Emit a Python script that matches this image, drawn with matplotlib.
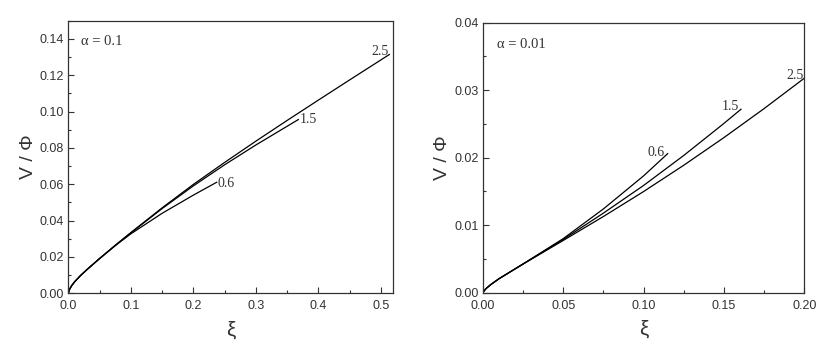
import numpy as np
import matplotlib
matplotlib.use("Agg")
import matplotlib.pyplot as plt
from matplotlib.ticker import MultipleLocator, FormatStrFormatter

# ---- data ----
# left panel, alpha = 0.1
xi_a_25 = [0, 0.002, 0.005, 0.01, 0.02, 0.03, 0.05, 0.075, 0.1, 0.15, 0.2, 0.25,
           0.3, 0.35, 0.4, 0.45, 0.5136]
v_a_25 = [0, 0.0022, 0.0040, 0.0063, 0.0099, 0.0131, 0.0191, 0.0264, 0.0334, 0.0470,
          0.0599, 0.0720, 0.0837, 0.0951, 0.1063, 0.1174, 0.1314]
xi_a_15 = [0, 0.002, 0.005, 0.01, 0.02, 0.03, 0.05, 0.075, 0.1, 0.15, 0.2, 0.25,
           0.3, 0.368]
v_a_15 = [0, 0.0022, 0.0040, 0.0063, 0.0099, 0.0131, 0.0191, 0.0263, 0.0332, 0.0466,
          0.0591, 0.0707, 0.0816, 0.0956]
xi_a_06 = [0, 0.002, 0.005, 0.01, 0.02, 0.03, 0.05, 0.075, 0.1, 0.15, 0.2, 0.2374]
v_a_06 = [0, 0.0022, 0.0040, 0.0063, 0.0099, 0.0131, 0.0191, 0.0262, 0.0327, 0.0440,
          0.0540, 0.0611]

# right panel, alpha = 0.01
xi_b_25 = [0, 0.002, 0.005, 0.01, 0.025, 0.05, 0.075, 0.1, 0.125, 0.15, 0.175, 0.2]
v_b_25 = [0, 0.0006, 0.0012, 0.00205, 0.00423, 0.00773, 0.01128, 0.01498, 0.01888,
          0.02298, 0.02728, 0.03178]
xi_b_15 = [0, 0.002, 0.005, 0.01, 0.025, 0.05, 0.075, 0.1, 0.125, 0.15, 0.1606]
v_b_15 = [0, 0.0006, 0.0012, 0.00205, 0.00423, 0.00788, 0.01178, 0.01588, 0.02033,
          0.02508, 0.02718]
xi_b_06 = [0, 0.002, 0.005, 0.01, 0.025, 0.05, 0.075, 0.1, 0.115]
v_b_06 = [0, 0.0006, 0.0012, 0.00205, 0.00425, 0.0080, 0.0124, 0.0173, 0.0206]

curve_labels = ["2.5", "1.5", "0.6"]

SERIF = ["Liberation Serif", "DejaVu Serif"]
SANS = ["Liberation Sans", "DejaVu Sans"]
plt.rcParams["font.family"] = SANS
GRAY = "#333333"


def style_axes(ax, xmaj, xmin, ymaj, ymin, xfmt, yfmt):
    ax.xaxis.set_major_locator(MultipleLocator(xmaj))
    ax.xaxis.set_minor_locator(MultipleLocator(xmin))
    ax.yaxis.set_major_locator(MultipleLocator(ymaj))
    ax.yaxis.set_minor_locator(MultipleLocator(ymin))
    ax.xaxis.set_major_formatter(FormatStrFormatter(xfmt))
    ax.yaxis.set_major_formatter(FormatStrFormatter(yfmt))
    ax.tick_params(which="both", direction="in", top=False, right=False,
                   colors=GRAY, labelsize=9, width=0.8)
    ax.tick_params(which="major", length=4.5)
    ax.tick_params(which="minor", length=2.5)
    ax.tick_params(axis="x", pad=5)
    ax.tick_params(axis="y", pad=3)
    for sp in ax.spines.values():
        sp.set_color(GRAY)
        sp.set_linewidth(0.9)
    ax.set_xlabel("ξ", fontsize=15, labelpad=6, color=GRAY)
    ax.set_ylabel("V / Φ", fontsize=14, labelpad=2, color=GRAY)


fig = plt.figure(figsize=(8.3, 3.54), dpi=100)
ax1 = fig.add_axes([0.0823, 0.1715, 0.3916, 0.770])
ax2 = fig.add_axes([0.5816, 0.1732, 0.3875, 0.7627])

# left panel
curves_a = [(xi_a_25, v_a_25), (xi_a_15, v_a_15), (xi_a_06, v_a_06)]
offs_a = [(-7, 2), (7, 0), (7, -1)]
for (x, y), lab, off in zip(curves_a, curve_labels, offs_a):
    ax1.plot(x, y, color="black", lw=0.9)
    ax1.annotate(lab, xy=(x[-1], y[-1]), xytext=off, textcoords="offset points",
                 ha="center", va="center", fontsize=10, family=SERIF, color=GRAY)
ax1.set_xlim(0, 0.52)
ax1.set_ylim(0, 0.15)
style_axes(ax1, 0.1, 0.05, 0.02, 0.01, "%.1f", "%.2f")
ax1.text(0.04, 0.925, "α = 0.1", transform=ax1.transAxes, fontsize=10.5,
         family=SERIF, color=GRAY, va="center")

# right panel
curves_b = [(xi_b_25, v_b_25), (xi_b_15, v_b_15), (xi_b_06, v_b_06)]
offs_b = [(-7, 2), (-8, 2), (-8, 1)]
for (x, y), lab, off in zip(curves_b, curve_labels, offs_b):
    ax2.plot(x, y, color="black", lw=0.9)
    ax2.annotate(lab, xy=(x[-1], y[-1]), xytext=off, textcoords="offset points",
                 ha="center", va="center", fontsize=10, family=SERIF, color=GRAY)
ax2.set_xlim(0, 0.20)
ax2.set_ylim(0, 0.04)
style_axes(ax2, 0.05, 0.025, 0.01, 0.005, "%.2f", "%.2f")
ax2.text(0.045, 0.92, "α = 0.01", transform=ax2.transAxes, fontsize=10.5,
         family=SERIF, color=GRAY, va="center")

fig.savefig("out.png", dpi=100)
